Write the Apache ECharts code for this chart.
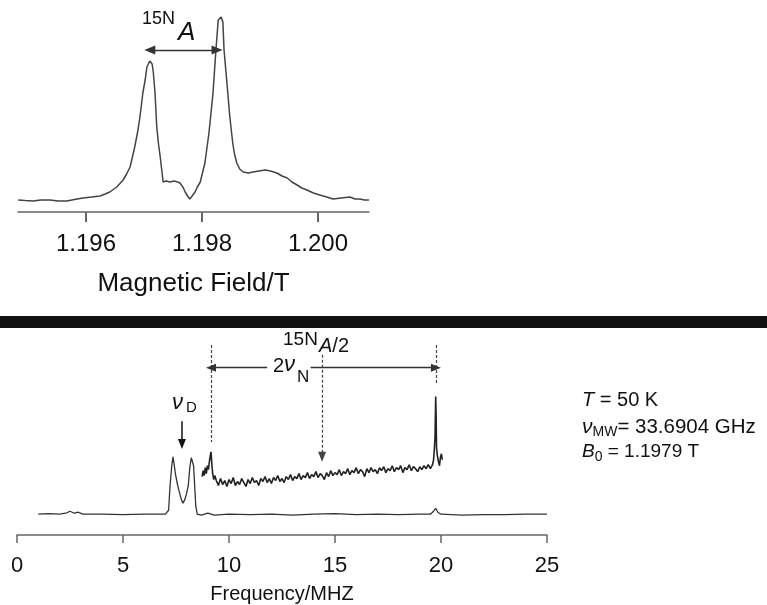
<!DOCTYPE html>
<html><head><meta charset="utf-8">
<script src="https://cdn.jsdelivr.net/npm/echarts@6/dist/echarts.min.js"></script>
<style>html,body{margin:0;padding:0;background:#fff}#c{width:767px;height:605px}</style>
</head><body><div id="c"></div>
<script>
// ---------- Top panel: EPR line vs magnetic field ----------
const fieldTicks = [1.196, 1.198, 1.200];
const topField = [1.19483,1.19495,1.19509,1.19522,1.19538,1.19552,1.19567,1.19580,1.19595,1.19610,
  1.19624,1.19633,1.19641,1.19653,1.19664,1.19670,1.19676,1.19684,1.19689,1.19693,
  1.19698,1.19702,1.19705,1.19710,1.19714,1.19716,1.19719,1.19722,1.19725,1.19728,
  1.19733,1.19738,1.19745,1.19752,1.19758,1.19762,1.19767,1.19771,1.19775,1.19779,
  1.19783,1.19788,1.19792,1.19797,1.19805,1.19812,1.19819,1.19824,1.19828,1.19833,
  1.19836,1.19838,1.19843,1.19848,1.19853,1.19856,1.19860,1.19865,1.19871,1.19880,
  1.19888,1.19898,1.19909,1.19918,1.19929,1.19938,1.19947,1.19955,1.19964,1.19972,
  1.19981,1.19992,1.20003,1.20015,1.20026,1.20040,1.20055,1.20064,1.20072,1.20080,1.20088];
const topIntensity = [12,11.5,11,12,12,11,11,12.5,14,15,
  16,18,20,25,32,38,45,65,80,95,
  119,132,145,151,148,140,119,85,68,55,
  30,31,30,31,30,29,25,20,16,13,
  16,20,25,30,49,79,119,162,192,195,
  190,162,129,95,69,58,49,43,40,39,
  40,41,42,41,39,36,34,30,27,24,
  22,19,17,15,13,14,15,13,13,12,12];

// ---------- Bottom panel: ENDOR spectra vs frequency ----------
const freqLow = [1.0,1.5,2.0,2.3,2.5,2.7,2.9,3.1,4.0,5.0,6.0,7.0,7.15,7.22,7.3,7.36,7.42,7.47,7.52,7.58,
  7.65,7.75,7.83,7.92,8.0,8.08,8.15,8.22,8.27,8.33,8.38,8.43,8.5,8.7,9.0,9.3,10,11,12,13,
  14,15,16,17,18,19,19.5,19.65,19.75,19.85,20.0,21,22,23,24,25];
const lowIntensity = [21,21.5,21,22,24,22,23,21,21,20.5,21,21,25,50,70,79,70,62,64,50,
  44,36,32,36,42,50,68,78,80,70,50,30,21,20,22,20,21,20.5,21,20,
  21,21.5,20.5,21,20.5,21,21,24,27,23,21,20,20.5,20.5,21,21];

const freqHigh = [8.73,8.78,8.83,8.88,8.93,8.98,9.03,9.08,9.12,9.15,9.19,9.23,9.28,9.33,
  9.4,9.5,9.6,9.7,9.8,9.9,10.0,10.1,10.2,10.3,10.4,10.5,10.6,10.7,10.8,10.9,
  11.0,11.1,11.2,11.3,11.4,11.5,11.6,11.7,11.8,11.9,12.0,12.1,12.2,12.3,12.4,12.5,12.6,12.7,12.8,12.9,
  13.0,13.1,13.2,13.3,13.4,13.5,13.6,13.7,13.8,13.9,14.0,14.1,14.2,14.3,14.4,14.5,14.6,14.7,14.8,14.9,
  15.0,15.1,15.2,15.3,15.4,15.5,15.6,15.7,15.8,15.9,16.0,16.1,16.2,16.3,16.4,16.5,16.6,16.7,16.8,16.9,
  17.0,17.1,17.2,17.3,17.4,17.5,17.6,17.7,17.8,17.9,18.0,18.1,18.2,18.3,18.4,18.5,18.6,18.7,18.8,18.9,
  19.0,19.1,19.2,19.3,19.4,19.5,19.6,19.65,19.69,19.72,19.75,19.77,19.79,19.83,19.88,19.93,19.97,20.02,20.06];
const highIntensity = [59,65,60,68,62,70,66,75,80,84,72,62,56,60,
  55,50,57,51,55,49,56,52,58,50,54,51,57,53,49,56,
  52,58,53,55,50,57,54,59,53,57,52,58,55,60,54,57,53,59,56,61,
  55,59,57,62,56,60,58,63,57,61,59,64,58,62,60,56,63,59,65,60,
  63,61,66,60,64,62,67,61,65,63,68,62,66,64,59,67,63,68,64,66,
  62,68,65,69,63,67,65,70,64,68,66,70,63,68,66,71,65,69,67,64,
  69,66,70,67,71,67,71,76,88,100,140,120,88,80,74,70,78,82,76];

// ---------- Annotation anchors (data coordinates) ----------
const splitArrowField = [1.19710, 1.19826, 162];     // 15N A double arrow
const guideDashed = [[9.15, 192, 94], [19.76, 192, 152]];
const halfAArrow = [14.39, 182, 79];
const twoNuArrowLeft = [9.15, 11.8, 169];
const twoNuArrowRight = [13.85, 19.76, 169];
const nuDArrow = [7.78, 115, 92];

const FONT = "'Liberation Sans', Arial, Helvetica, sans-serif";
const INK = '#333';
const pairs = (xs, ys) => xs.map((x, i) => [x, ys[i]]);

const chart = echarts.init(document.getElementById('c'), null, {renderer: 'canvas'});

const dashed = {color: '#444', width: 1.2, type: [3, 2]};
const solid = {color: INK, width: 1.3, type: 'solid'};
const seg = (x1, y1, x2, y2, s1, s2, ls) => [
  {coord: [x1, y1], symbol: s1, lineStyle: ls},
  {coord: [x2, y2], symbol: s2}
];
const T = (x, y, text, font, extra) => ({type: 'text', x, y, silent: true,
  style: Object.assign({text, font, fill: '#111', align: 'left', verticalAlign: 'middle',
    textAlign: 'left', textVerticalAlign: 'middle'}, extra || {})});

const option = {
  backgroundColor: '#fff',
  animation: false,
  textStyle: {fontFamily: FONT},
  grid: [
    {left: 18, width: 351, top: 12, height: 200},
    {left: 17, width: 530, top: 337, height: 200}
  ],
  xAxis: [
    {
      type: 'value', gridIndex: 0, min: 1.1948276, max: 1.2008793,
      axisLine: {show: true, onZero: false, lineStyle: {color: '#666', width: 1.5}},
      axisTick: {show: true, customValues: fieldTicks, length: 10, lineStyle: {color: '#666', width: 2}},
      axisLabel: {customValues: fieldTicks, formatter: v => v.toFixed(3), margin: 20,
        fontSize: 24, color: '#111', fontFamily: FONT},
      splitLine: {show: false},
      name: 'Magnetic Field/T', nameLocation: 'middle', nameGap: 59,
      nameTextStyle: {fontSize: 26, color: '#111', fontFamily: FONT}
    },
    {
      type: 'value', gridIndex: 1, min: 0, max: 25, interval: 5,
      axisLine: {show: true, onZero: false, lineStyle: {color: '#666', width: 1.5}},
      axisTick: {show: true, length: 8, lineStyle: {color: '#666', width: 1.5}},
      axisLabel: {margin: 20, fontSize: 22, color: '#111', fontFamily: FONT},
      splitLine: {show: false},
      name: 'Frequency/MHZ', nameLocation: 'middle', nameGap: 49,
      nameTextStyle: {fontSize: 20, color: '#111', fontFamily: FONT}
    }
  ],
  yAxis: [
    {type: 'value', gridIndex: 0, min: 0, max: 200, show: false},
    {type: 'value', gridIndex: 1, min: 0, max: 200, show: false}
  ],
  series: [
    {
      type: 'line', xAxisIndex: 0, yAxisIndex: 0, data: pairs(topField, topIntensity),
      showSymbol: false, symbol: 'none', lineStyle: {color: '#444', width: 1.5}, silent: true,
      markLine: {
        silent: true, animation: false, symbol: ['triangle', 'triangle'], symbolSize: [9, 11],
        label: {show: false}, lineStyle: solid,
        data: [seg(splitArrowField[0], splitArrowField[2], splitArrowField[1], splitArrowField[2], 'triangle', 'triangle', solid)]
      }
    },
    {
      type: 'line', xAxisIndex: 1, yAxisIndex: 1, data: pairs(freqLow, lowIntensity),
      showSymbol: false, symbol: 'none', lineStyle: {color: '#333', width: 1.3}, silent: true
    },
    {
      type: 'line', xAxisIndex: 1, yAxisIndex: 1, data: pairs(freqHigh, highIntensity),
      showSymbol: false, symbol: 'none', lineStyle: {color: '#222', width: 1.6}, silent: true,
      markLine: {
        silent: true, animation: false, symbol: ['none', 'none'], symbolSize: [8, 10],
        label: {show: false}, lineStyle: solid,
        data: [
          seg(guideDashed[0][0], guideDashed[0][1], guideDashed[0][0], guideDashed[0][2], 'none', 'none', dashed),
          seg(guideDashed[1][0], guideDashed[1][1], guideDashed[1][0], guideDashed[1][2], 'none', 'none', dashed),
          seg(halfAArrow[0], halfAArrow[1], halfAArrow[0], halfAArrow[2], 'none', 'triangle', dashed),
          seg(twoNuArrowLeft[1], twoNuArrowLeft[2], twoNuArrowLeft[0], twoNuArrowLeft[2], 'none', 'triangle', solid),
          seg(twoNuArrowRight[0], twoNuArrowRight[2], twoNuArrowRight[1], twoNuArrowRight[2], 'none', 'triangle', solid),
          seg(nuDArrow[0], nuDArrow[1], nuDArrow[0], nuDArrow[2], 'none', 'triangle', {color: '#111', width: 1.5, type: 'solid'})
        ]
      }
    }
  ],
  graphic: [
    {type: 'rect', shape: {x: 0, y: 316, width: 767, height: 12}, style: {fill: '#111'}, silent: true},
    // top annotation
    T(142, 19, '15N', `18px ${FONT}`),
    T(178, 33, 'A', `italic 26px ${FONT}`),
    // bottom annotations
    T(283, 340, '15N', `19px ${FONT}`),
    T(319, 346, '{i|A}{n|/2}', `20px ${FONT}`, {rich: {i: {font: `italic 20px ${FONT}`, fill: '#111'}, n: {font: `20px ${FONT}`, fill: '#111'}}}),
    T(273, 366, '2', `20px ${FONT}`),
    T(284, 365, 'ν', `italic 22px ${FONT}`),
    T(297, 377, 'N', `17px ${FONT}`),
    T(172, 403, 'ν', `italic 22px ${FONT}`),
    T(186, 408, 'D', `15px ${FONT}`),
    // parameters block
    T(582, 400, '{i|T}{n| = 50 K}', `20px ${FONT}`, {rich: {
      i: {font: `italic 20px ${FONT}`, fill: '#111'}, n: {font: `20px ${FONT}`, fill: '#111'}}}),
    T(582, 427, '{i|ν}{s|MW}{n|= 33.6904 GHz}', `20px ${FONT}`, {rich: {
      i: {font: `italic 21px ${FONT}`, fill: '#111', lineHeight: 24, verticalAlign: 'middle'},
      s: {font: `14px ${FONT}`, fill: '#111', lineHeight: 14, verticalAlign: 'bottom'},
      n: {font: `20.5px ${FONT}`, fill: '#111', lineHeight: 24, verticalAlign: 'middle'}}}),
    T(582, 452, '{i|B}{s|0}{n| = 1.1979 T}', `19px ${FONT}`, {rich: {
      i: {font: `italic 19px ${FONT}`, fill: '#111', lineHeight: 24, verticalAlign: 'middle'},
      s: {font: `14px ${FONT}`, fill: '#111', lineHeight: 14, verticalAlign: 'bottom'},
      n: {font: `19px ${FONT}`, fill: '#111', lineHeight: 24, verticalAlign: 'middle'}}})
  ]
};
chart.setOption(option);
</script></body></html>
